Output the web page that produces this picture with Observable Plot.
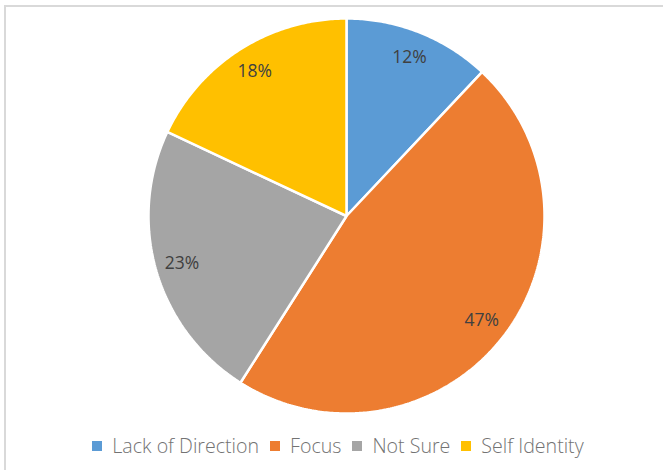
<!DOCTYPE html>
<html>
<head>
<meta charset="utf-8">
<script src="https://cdn.jsdelivr.net/npm/d3@7"></script>
<script src="https://cdn.jsdelivr.net/npm/@observablehq/plot@0.6"></script>
<style>
  html, body { margin: 0; padding: 0; background: #fff; }
  #frame { position: absolute; left: 4px; top: 5px; width: 680px; height: 480px;
           border-top: 2px solid #d9d9d9; border-left: 2px solid #d9d9d9; box-sizing: border-box; }
  #chart { position: absolute; left: 0; top: 0; }
  #legend { position: absolute; left: 6px; top: 432px; width: 675px; display: flex; justify-content: center;
            font-family: "Open Sans", sans-serif; font-weight: 300; font-size: 19.6px; color: #737373; }
  .item { display: flex; align-items: center; margin-right: 11px; }
  .sw { width: 10px; height: 10px; margin-right: 10px; }
</style>
</head>
<body>
<div id="frame"></div>
<div id="chart"></div>
<div id="legend"></div>
<script>
const categories = ["Lack of Direction", "Focus", "Not Sure", "Self Identity"];
const values = [12, 47, 23, 18];
const labels = ["12%", "47%", "23%", "18%"];
const colors = ["#5b9bd5", "#ed7d31", "#a5a5a5", "#ffc000"];

const pie = d3.pie().sort(null).value(d => d.value);
const arcs = pie(categories.map((c, i) => ({category: c, value: values[i], label: labels[i]})));

// Build slice outlines in unit-circle coordinates (angle 0 at top, clockwise)
const slicePts = [];
arcs.forEach(a => {
  slicePts.push({category: a.data.category, x: 0, y: 0});
  const n = Math.max(2, Math.ceil((a.endAngle - a.startAngle) / 0.01));
  for (let k = 0; k <= n; k++) {
    const t = a.startAngle + (a.endAngle - a.startAngle) * k / n;
    slicePts.push({category: a.data.category, x: Math.sin(t), y: Math.cos(t)});
  }
});
const labelPts = arcs.map(a => {
  const m = (a.startAngle + a.endAngle) / 2;
  return {label: a.data.label, x: 0.865 * Math.sin(m), y: 0.865 * Math.cos(m)};
});

const chart = Plot.plot({
  width: 663,
  height: 430,
  marginLeft: 148,
  marginRight: 119,
  marginTop: 18,
  marginBottom: 17,
  x: {domain: [-1, 1], axis: null},
  y: {domain: [-1, 1], axis: null},
  color: {domain: categories, range: colors},
  style: {background: "transparent"},
  marks: [
    Plot.line(slicePts, {x: "x", y: "y", z: "category", fill: "category", stroke: "#fff",
      strokeWidth: 2.5, curve: "linear-closed", strokeLinejoin: "miter"}),
    Plot.text(labelPts, {x: "x", y: "y", text: "label", fill: "#404040", fontSize: 17.5,
      fontFamily: "Open Sans, sans-serif"})
  ]
});
document.getElementById("chart").appendChild(chart);

const legend = document.getElementById("legend");
categories.forEach((c, i) => {
  const it = document.createElement("div");
  it.className = "item";
  const sw = document.createElement("span");
  sw.className = "sw";
  sw.style.background = colors[i];
  const tx = document.createElement("span");
  tx.textContent = c;
  it.appendChild(sw); it.appendChild(tx);
  legend.appendChild(it);
});
</script>
</body>
</html>
